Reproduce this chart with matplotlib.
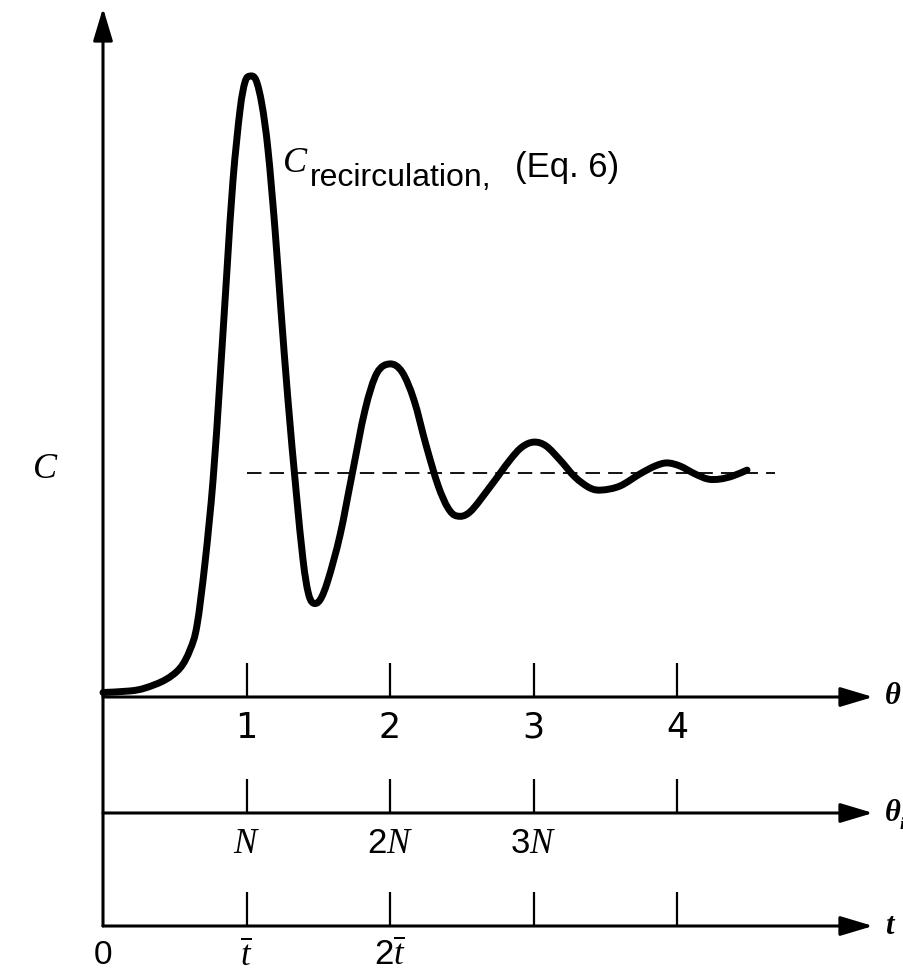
#recirculation response curve, redrawn
import numpy as np
import matplotlib
matplotlib.use("Agg")
import matplotlib.pyplot as plt
from matplotlib.path import Path
from matplotlib.patches import PathPatch

# curve: theta (dimensionless time) and C
theta = [0.0, 0.188, 0.293, 0.432, 0.537, 0.606, 0.655, 0.711, 0.767, 0.815,
         0.864, 0.906, 0.955, 0.990, 1.024, 1.066, 1.108, 1.150, 1.199, 1.240,
         1.289, 1.345, 1.394, 1.429, 1.463, 1.512, 1.568, 1.652, 1.735, 1.826,
         1.909, 2.0, 2.084, 2.167, 2.251, 2.334, 2.404, 2.467, 2.557, 2.697,
         2.836, 2.920, 3.003, 3.087, 3.185, 3.289, 3.394, 3.477, 3.603, 3.742,
         3.847, 3.930, 4.021, 4.125, 4.216, 4.300, 4.390, 4.488]
conc = [0.02, 0.027, 0.040, 0.076, 0.129, 0.21, 0.32, 0.60, 0.969, 1.415,
        1.906, 2.308, 2.621, 2.746, 2.772, 2.754, 2.643, 2.442, 2.085, 1.728,
        1.326, 0.924, 0.612, 0.469, 0.420, 0.433, 0.522, 0.723, 0.991, 1.281,
        1.446, 1.487, 1.451, 1.326, 1.125, 0.946, 0.844, 0.808, 0.826, 0.938,
        1.058, 1.116, 1.138, 1.121, 1.058, 0.982, 0.933, 0.924, 0.942, 0.996,
        1.031, 1.045, 1.031, 0.996, 0.973, 0.973, 0.987, 1.013]
mean_level = 1.0
mean_start, mean_end = 1.0, 4.68

tick_pos = [1, 2, 3, 4]
theta_labels = ["1", "2", "3", "4"]
thetai_labels = [r"$\mathit{N}$", r"$2\mathit{N}$", r"$3\mathit{N}$", ""]
t_labels = [r"$\overline{\mathit{t}}$", r"$2\overline{\mathit{t}}$", "", ""]

plt.rcParams['mathtext.fontset'] = 'custom'
plt.rcParams['mathtext.rm'] = 'Liberation Sans'
plt.rcParams['mathtext.it'] = 'Liberation Serif:italic'
plt.rcParams['mathtext.bf'] = 'Liberation Serif:bold:italic'

# layout in pixels of the 904x980 picture
W, H = 904, 980
X0, SX = 103, 143.5
Y0, SY = 697, 224

def px(x):
    return (x - X0) / SX

def py(y):
    return (Y0 - y) / SY

def smooth_path(xs, ys):
    # catmull-rom through the read points, drawn as cubic beziers
    p = np.column_stack([xs, ys])
    p = np.vstack([p[0], p, p[-1]])
    verts = [p[1]]
    codes = [Path.MOVETO]
    for i in range(1, len(p) - 2):
        c1 = p[i] + (p[i + 1] - p[i - 1]) / 6.0
        c2 = p[i + 1] - (p[i + 2] - p[i]) / 6.0
        verts += [c1, c2, p[i + 1]]
        codes += [Path.CURVE4] * 3
    return Path(verts, codes)

fig = plt.figure(figsize=(W / 100, H / 100), dpi=100)
ax = fig.add_axes([0, 0, 1, 1])
ax.set_xlim(px(0), px(W))
ax.set_ylim(py(H), py(0))
ax.axis("off")

axis_levels = [py(697), py(813), py(926)]
axis_names = ["θ", "θ", "t"]
label_levels = [py(728), py(843), py(955)]
all_labels = [theta_labels, thetai_labels, t_labels]

arrow = dict(arrowstyle="-|>,head_length=2.0,head_width=0.6", mutation_scale=10,
             lw=2.2, color="k", shrinkA=0, shrinkB=0)

# vertical axis
ax.annotate("", xy=(0, py(8)), xytext=(0, axis_levels[-1]), arrowprops=arrow)
ax.text(px(45), py(470), "C", fontsize=26, family="Liberation Serif", style="italic",
        ha="center", va="center")

tick_len = 34 / SY
for lev, name, llev, labs in zip(axis_levels, axis_names, label_levels, all_labels):
    ax.annotate("", xy=(px(873), lev), xytext=(0, lev), arrowprops=arrow)
    ax.text(px(885), lev, name, fontsize=22, family="Liberation Serif", style="italic",
            weight="bold", ha="left", va="center")
    for xt, lab in zip(tick_pos, labs):
        ax.plot([xt, xt], [lev, lev + tick_len], color="k", lw=1.6, solid_capstyle="butt")
        if lab:
            ax.text(xt, llev, lab, fontsize=25, ha="center", va="center")

# subscript of theta_i, at the right edge
ax.text(px(900), axis_levels[1] - 12 / SY, "i", fontsize=12, family="Liberation Serif",
        style="italic", weight="bold", ha="left", va="center")

ax.text(0, label_levels[-1], "0", fontsize=24, family="Liberation Sans",
        ha="center", va="center")

# dashed mean level
ax.plot([mean_start, mean_end], [mean_level, mean_level], color="k", lw=1.3,
        dashes=(8, 4.5))

# response curve
ax.add_patch(PathPatch(smooth_path(theta, conc), facecolor="none", edgecolor="k",
                       lw=5.0, joinstyle="round", capstyle="round"))

ax.text(px(283), py(172), "C", fontsize=26, family="Liberation Serif", style="italic",
        ha="left", va="baseline")
ax.text(px(310), py(186), "recirculation,", fontsize=23, family="Liberation Sans",
        ha="left", va="baseline")
ax.text(px(515), py(177), "(Eq. 6)", fontsize=25, family="Liberation Sans",
        ha="left", va="baseline")

plt.savefig("out.png", dpi=100)
plt.close()
